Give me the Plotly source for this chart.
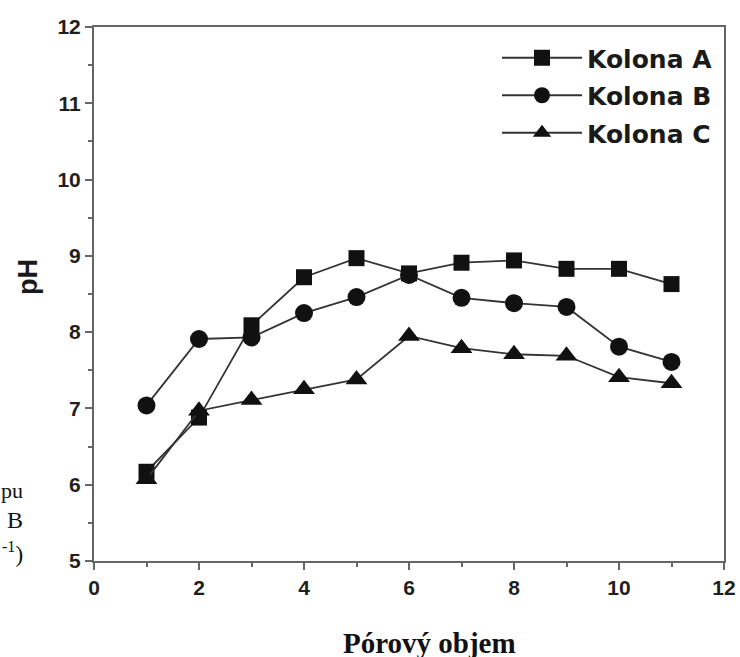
import plotly.graph_objects as go

pore_volume = [1, 2, 3, 4, 5, 6, 7, 8, 9, 10, 11]
ph_a = [6.17, 6.88, 8.09, 8.72, 8.97, 8.77, 8.91, 8.94, 8.83, 8.83, 8.63]
ph_b = [7.04, 7.91, 7.93, 8.25, 8.46, 8.75, 8.45, 8.38, 8.33, 7.81, 7.61]
ph_c = [6.07, 6.97, 7.11, 7.25, 7.38, 7.95, 7.79, 7.71, 7.69, 7.41, 7.33]
series_names = ["Kolona A", "Kolona B", "Kolona C"]
x_ticks = [0, 2, 4, 6, 8, 10, 12]
y_ticks = [5, 6, 7, 8, 9, 10, 11, 12]

W, H = 740, 657
L, R, T, B = 94, 724, 27, 561


def px(xs):
    return (xs - L) / (R - L)


def py(ys):
    return (B - ys) / (B - T)


fig = go.Figure()
symbols = ["square", "circle", "triangle-up"]
sizes = [16, 18, 19]
for name, ys, sym, sz in zip(series_names, [ph_a, ph_b, ph_c], symbols, sizes):
    fig.add_trace(go.Scatter(
        x=pore_volume, y=ys, name=name, mode="lines+markers", legendgroup=name,
        line=dict(color="#333333", width=1.8),
        marker=dict(symbol=sym, size=sz, color="#111111", line=dict(width=0)),
    ))

axis_common = dict(
    showline=True, linecolor="#666666", linewidth=2, mirror=True,
    ticks="outside", tickcolor="#666666", tickwidth=2, ticklen=7,
    showgrid=False, zeroline=False, automargin=False, ticklabeloverflow="allow",
    tickfont=dict(family="Arial, Liberation Sans", size=21, color="#1f1f1f", weight="bold"),
    minor=dict(ticks="outside", ticklen=4, tickcolor="#666666", tickwidth=1.5),
)

fig.update_xaxes(range=[0, 12], tickvals=x_ticks, minor_dtick=1, **axis_common)
fig.update_yaxes(range=[5, 12], tickvals=y_ticks, minor_dtick=0.5, **axis_common)

fig.add_annotation(text="<b>pH</b>", xref="paper", yref="paper",
                   x=px(28), y=py(277), textangle=-90,
                   xanchor="center", yanchor="middle", showarrow=False,
                   font=dict(family="Arial, Liberation Sans", size=27, color="#1a1a1a"))

fig.add_annotation(text="<b>Pórový objem</b>", xref="paper", yref="paper",
                   x=px(429), y=py(643), xanchor="center", yanchor="middle",
                   showarrow=False,
                   font=dict(family="Liberation Serif, Times New Roman", size=29, color="#111111"))

for txt, ypx, sz in [("pu", 490, 22), ("B", 520, 24), ("<sup>-1</sup>)", 552, 23)]:
    fig.add_annotation(text=txt, xref="paper", yref="paper",
                       x=px(25), y=py(ypx),
                       xanchor="right", yanchor="middle", showarrow=False,
                       font=dict(family="Liberation Serif, Times New Roman", size=sz, color="#111111"))

fig.update_layout(
    width=W, height=H,
    margin=dict(l=L, r=W - R, t=T, b=H - B, autoexpand=False),
    paper_bgcolor="white", plot_bgcolor="white",
    showlegend=True,
    legend=dict(x=px(497), y=py(35), xanchor="left", yanchor="top",
                font=dict(family="DejaVu Sans", size=25, color="#1a1a1a", weight="bold"),
                itemwidth=80, tracegroupgap=2, bgcolor="rgba(0,0,0,0)"),
)

fig.write_html("out.html", config={"displayModeBar": False},
               post_script="document.body.style.margin='0';")
